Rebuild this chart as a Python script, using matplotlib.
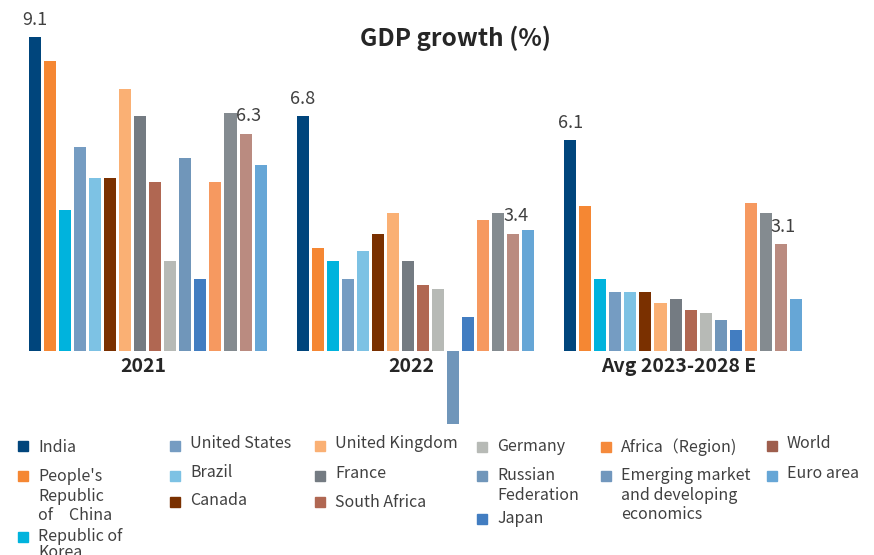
import matplotlib
matplotlib.use("Agg")
import matplotlib.pyplot as plt
from matplotlib.patches import Rectangle
import numpy as np

plt.rcParams['font.family'] = ['Noto Sans CJK JP', 'DejaVu Sans']

# data
groups = ["2021", "2022", "Avg 2023-2028 E"]
countries = ["India", "People's\nRepublic\nof\u3000China", "Republic of\nKorea",
             "United States", "Brazil", "Canada", "United Kingdom", "France",
             "South Africa", "Germany", "Russian\nFederation", "Japan",
             "Africa\uff08Region)", "Emerging market\nand developing\neconomics",
             "World", "Euro area"]
g2021 = [9.1, 8.4, 4.1, 5.9, 5.0, 5.0, 7.6, 6.8, 4.9, 2.6, 5.6, 2.1, 4.9, 6.9, 6.3, 5.4]
g2022 = [6.8, 3.0, 2.6, 2.1, 2.9, 3.4, 4.0, 2.6, 1.9, 1.8, -2.1, 1.0, 3.8, 4.0, 3.4, 3.5]
gavg = [6.1, 4.2, 2.1, 1.7, 1.7, 1.7, 1.4, 1.5, 1.2, 1.1, 0.9, 0.6, 4.3, 4.0, 3.1, 1.5]
values = [g2021, g2022, gavg]
labelled = [0, 14]  # India and World get value labels

bar_colors = ["#00457C", "#F58733", "#00B3DD", "#759CC2", "#7DC2E4", "#7A3000",
              "#FAB074", "#747B82", "#B06752", "#B7BAB6", "#7096BA", "#427DC1",
              "#F69960", "#848B90", "#BA8B80", "#66A6D6"]
legend_colors = bar_colors[:12] + ["#F58A3C", "#7197BD", "#9E5E4D", "#66A6D6"]

fig = plt.figure(figsize=(8.74, 5.55), dpi=100)
ax = fig.add_axes([0, 0.2306, 1, 0.7153])

n = len(countries)
pitch = 17.8
for g in range(len(groups)):
    x = g * pitch + np.arange(n)
    ax.bar(x, values[g], width=0.8, color=bar_colors)
    for i in labelled:
        v = values[g][i]
        ax.annotate(f"{v:.1f}", (x[i], v), xytext=(2 if i else 0, 6),
                    textcoords="offset points", ha="center", va="bottom",
                    fontsize=13, color="#404040")
    ax.text(g * pitch + (n - 1) / 2 - 0.3, -0.45, groups[g], ha="center", va="center",
            fontsize=14, fontweight="bold", color="#262626")

ax.set_xlim(-2.33, 55.8)
ax.set_ylim(-2.2, 9.3)
ax.axis("off")

fig.text(0.521, 0.931, "GDP growth (%)", ha="center", va="center",
         fontsize=17.5, fontweight="bold", color="#262626")

# legend laid out by hand in pixel coordinates
W, H = 874, 555
sq_x = [18, 170, 315, 477, 601, 767]
leg_col = [0, 0, 0, 1, 1, 1, 2, 2, 2, 3, 3, 3, 4, 4, 5, 5]
sq_top = [441, 471, 532, 441, 471, 497, 441, 471, 497, 442, 471, 514, 442, 471, 441, 471]
txt_mid = [446, 475, 535, 442, 471, 499, 442, 472, 501, 445, 474, 517, 445, 474, 442, 472]
for i, name in enumerate(countries):
    c = leg_col[i]
    fig.patches.append(Rectangle((sq_x[c] / W, 1 - (sq_top[i] + 10) / H), 10 / W, 10 / H,
                                 transform=fig.transFigure, color=legend_colors[i]))
    fig.text((sq_x[c] + 20) / W, 1 - (txt_mid[i] - 7) / H, name, ha="left", va="top",
             fontsize=11.5, color="#404040", linespacing=0.95 if i == 2 else 1.2)

fig.savefig("out.png", dpi=100)
